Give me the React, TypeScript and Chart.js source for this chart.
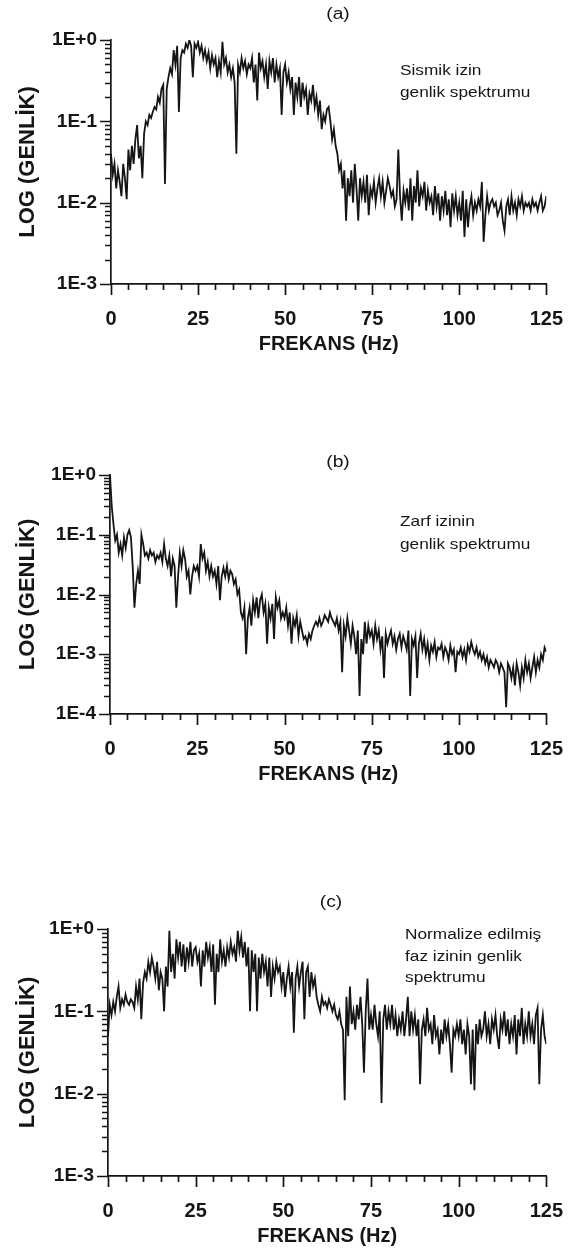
import React, { useEffect, useRef } from 'react';
import { Chart, registerables } from 'chart.js';

Chart.register(...registerables);

// Frequency sampling of the spectra (Hz between successive samples)
const FREQ_STEP_HZ = 0.5;
const X_TICKS = [0, 25, 50, 75, 100, 125];
const X_TITLE = 'FREKANS (Hz)';
const Y_TITLE = 'LOG (GENLİK)';

// (a) Sismik izin genlik spektrumu, 0 .. 125 Hz every 0.5 Hz
const A_AMP = [
  0.04, 0.022, 0.03, 0.015, 0.025, 0.018, 0.012, 0.03, 0.02, 0.011,
  0.045, 0.025, 0.05, 0.03, 0.06, 0.09, 0.035, 0.05, 0.02, 0.07,
  0.1, 0.09, 0.12, 0.11, 0.13, 0.15, 0.14, 0.2, 0.17, 0.25,
  0.28, 0.017, 0.25, 0.35, 0.45, 0.38, 0.75, 0.5, 0.85, 0.13,
  0.6, 0.75, 0.7, 0.9, 0.8, 1.0, 0.85, 0.35, 0.9, 0.8,
  0.95, 0.7, 0.85, 0.6, 0.75, 0.55, 0.7, 0.45, 0.65, 0.5,
  0.6, 0.35, 0.55, 0.4, 0.95, 0.5, 0.6, 0.4, 0.5, 0.35,
  0.45, 0.3, 0.04, 0.5, 0.4, 0.6, 0.45, 0.55, 0.38, 0.5,
  0.45, 0.6, 0.3, 0.5, 0.18, 0.7, 0.45, 0.55, 0.35, 0.5,
  0.25, 0.55, 0.4, 0.6, 0.3, 0.5, 0.35, 0.45, 0.12, 0.4,
  0.5, 0.3, 0.4, 0.25, 0.35, 0.12, 0.3, 0.2, 0.35, 0.15,
  0.3, 0.2, 0.25, 0.12, 0.22, 0.18, 0.28, 0.15, 0.2, 0.12,
  0.18, 0.08, 0.12, 0.1, 0.14, 0.15, 0.1, 0.06, 0.08, 0.05,
  0.04, 0.025, 0.03, 0.015, 0.025, 0.006, 0.02, 0.012, 0.025, 0.01,
  0.03, 0.015, 0.006, 0.02, 0.012, 0.018, 0.01, 0.022, 0.007, 0.015,
  0.012, 0.018, 0.01, 0.015, 0.02, 0.012, 0.018, 0.01, 0.014, 0.02,
  0.016, 0.012, 0.014, 0.009, 0.011, 0.045, 0.012, 0.006, 0.014, 0.01,
  0.015, 0.008, 0.02, 0.006, 0.016, 0.01, 0.025, 0.009, 0.015, 0.012,
  0.018, 0.008, 0.014, 0.01, 0.012, 0.007, 0.016, 0.009, 0.013, 0.006,
  0.012, 0.008, 0.014, 0.007, 0.011, 0.005, 0.013, 0.008, 0.012, 0.007,
  0.01, 0.006, 0.014, 0.0038, 0.011, 0.005, 0.009, 0.012, 0.007, 0.01,
  0.008, 0.011, 0.009, 0.018, 0.0033, 0.007, 0.012, 0.008, 0.01, 0.011,
  0.009, 0.01, 0.007, 0.008, 0.01, 0.006, 0.0045, 0.009, 0.011, 0.007,
  0.012, 0.008, 0.01, 0.007, 0.011, 0.009, 0.012, 0.008, 0.01, 0.009,
  0.01, 0.008, 0.011, 0.009, 0.01, 0.008, 0.01, 0.012, 0.008, 0.009,
  0.012,
];

// (b) Zarf izinin genlik spektrumu
const B_AMP = [
  1.0, 0.3, 0.15, 0.08, 0.1, 0.05, 0.07, 0.045, 0.09, 0.06,
  0.1, 0.12, 0.09, 0.03, 0.006, 0.015, 0.025, 0.015, 0.1, 0.07,
  0.045, 0.05, 0.04, 0.055, 0.045, 0.05, 0.035, 0.045, 0.04, 0.05,
  0.035, 0.07, 0.04, 0.03, 0.045, 0.02, 0.04, 0.03, 0.006, 0.02,
  0.05, 0.03, 0.055, 0.04, 0.02, 0.025, 0.01, 0.02, 0.03, 0.025,
  0.03, 0.02, 0.07, 0.04, 0.05, 0.025, 0.035, 0.02, 0.03, 0.02,
  0.025, 0.015, 0.03, 0.008, 0.02, 0.028, 0.02, 0.03, 0.018, 0.025,
  0.022, 0.015, 0.018, 0.01, 0.012, 0.005, 0.004, 0.006, 0.001, 0.004,
  0.006, 0.003, 0.008, 0.005, 0.009, 0.004, 0.008, 0.01, 0.005, 0.007,
  0.0015, 0.006, 0.004, 0.007, 0.0018, 0.009, 0.006, 0.008, 0.004, 0.005,
  0.004, 0.006, 0.003, 0.005, 0.0015, 0.004, 0.003, 0.0045, 0.002, 0.0035,
  0.0025, 0.0018, 0.002, 0.0015, 0.0022, 0.0018, 0.0025, 0.003, 0.0035, 0.003,
  0.004, 0.003, 0.0035, 0.0045, 0.004, 0.0035, 0.005, 0.004, 0.0035, 0.003,
  0.004, 0.0025, 0.0035, 0.0005, 0.003, 0.002, 0.004, 0.0025, 0.0015, 0.003,
  0.002, 0.001, 0.0025, 0.0002, 0.0018, 0.001, 0.0035, 0.0015, 0.003, 0.002,
  0.0025, 0.0015, 0.003, 0.0018, 0.0025, 0.0012, 0.002, 0.0004, 0.0022, 0.0015,
  0.002, 0.0025, 0.0015, 0.002, 0.0012, 0.0018, 0.0022, 0.0013, 0.002, 0.0016,
  0.0012, 0.0025, 0.0002, 0.0018, 0.0014, 0.002, 0.0004, 0.0015, 0.0022, 0.0012,
  0.0018, 0.001, 0.0015, 0.0008, 0.0014, 0.0011, 0.0016, 0.0009, 0.0013, 0.0012,
  0.0015, 0.0009, 0.0013, 0.0011, 0.0008, 0.0014, 0.001, 0.0012, 0.0005, 0.0011,
  0.001, 0.0013, 0.0009, 0.0012, 0.0008, 0.0014, 0.0011, 0.0016, 0.0012, 0.001,
  0.0013, 0.0009, 0.0011, 0.0008, 0.001, 0.0007, 0.0009, 0.0006, 0.0008, 0.0007,
  0.0006, 0.0008, 0.0007, 0.0005, 0.0007, 0.0006, 0.0005, 0.00013, 0.0007, 0.0006,
  0.0004, 0.0006, 0.0003, 0.0007, 0.0005, 0.0003, 0.0006, 0.0004, 0.0008, 0.0005,
  0.0007, 0.0004, 0.0006, 0.0009, 0.0005, 0.0008, 0.0006, 0.001, 0.0008, 0.0013,
  0.0011,
];

// (c) Normalize edilmiş faz izinin genlik spektrumu
const C_AMP = [
  0.05, 0.12, 0.09, 0.13, 0.1, 0.15, 0.2, 0.11, 0.14, 0.12,
  0.16, 0.13, 0.12, 0.14, 0.13, 0.11, 0.2, 0.14, 0.25, 0.08,
  0.22, 0.3, 0.25, 0.4, 0.3, 0.45, 0.35, 0.25, 0.4, 0.18,
  0.3, 0.25, 0.1, 0.35, 0.2, 0.95, 0.3, 0.5, 0.25, 0.75,
  0.45, 0.7, 0.35, 0.65, 0.3, 0.6, 0.4, 0.7, 0.35, 0.55,
  0.6, 0.4, 0.5, 0.2, 0.55, 0.35, 0.7, 0.45, 0.6, 0.3,
  0.65, 0.12, 0.5, 0.3, 0.75, 0.4, 0.55, 0.35, 0.6, 0.45,
  0.7, 0.5, 0.6, 0.4, 0.95, 0.55, 0.8, 0.45, 0.7, 0.35,
  0.6, 0.1, 0.55, 0.3, 0.5, 0.1, 0.45, 0.25, 0.5, 0.3,
  0.4, 0.2, 0.45, 0.15, 0.35, 0.25, 0.4, 0.3, 0.35, 0.2,
  0.3, 0.15, 0.25, 0.35, 0.2, 0.3, 0.055, 0.25, 0.35, 0.2,
  0.3, 0.4, 0.08, 0.3, 0.35, 0.15, 0.3, 0.2, 0.25, 0.15,
  0.12, 0.1, 0.15, 0.12, 0.13, 0.11, 0.14, 0.12, 0.1, 0.12,
  0.09, 0.08, 0.1, 0.07, 0.06, 0.0083, 0.15, 0.05, 0.2, 0.07,
  0.1, 0.06, 0.12, 0.08, 0.15, 0.07, 0.018, 0.1, 0.25, 0.06,
  0.09, 0.06, 0.12, 0.07, 0.05, 0.1, 0.0077, 0.08, 0.12, 0.06,
  0.1, 0.07, 0.12, 0.06, 0.09, 0.05, 0.08, 0.06, 0.1, 0.05,
  0.08, 0.15, 0.05, 0.1, 0.06, 0.09, 0.05, 0.08, 0.013, 0.06,
  0.08, 0.05, 0.11, 0.06, 0.07, 0.04, 0.09, 0.05, 0.06, 0.03,
  0.06, 0.04, 0.08, 0.05, 0.07, 0.04, 0.018, 0.06, 0.05, 0.07,
  0.05, 0.08, 0.04, 0.06, 0.03, 0.07, 0.05, 0.013, 0.06, 0.011,
  0.07, 0.04, 0.08, 0.05, 0.06, 0.1, 0.05, 0.07, 0.04, 0.08,
  0.06, 0.09, 0.05, 0.035, 0.08, 0.06, 0.1, 0.05, 0.08, 0.04,
  0.07, 0.05, 0.09, 0.03, 0.08, 0.05, 0.11, 0.04, 0.07, 0.05,
  0.1, 0.05, 0.07, 0.04, 0.09, 0.11, 0.013, 0.06, 0.09, 0.05,
  0.04,
];

const PANEL_LABELS = ['(a)', '(b)', '(c)'];
const NOTES_A = ['Sismik izin', 'genlik spektrumu'];
const NOTES_B = ['Zarf izinin', 'genlik spektrumu'];
const NOTES_C = ['Normalize edilmiş', 'faz izinin genlik', 'spektrumu'];
const Y_DECADES_A = [-3, 0];
const Y_DECADES_B = [-4, 0];
const Y_DECADES_C = [-3, 0];

const FONT = "'Liberation Sans', Arial, sans-serif";
const INK = '#151515';

type Panel = {
  amp: number[];
  decades: number[];
  label: string;
  notes: string[];
  canvasTop: number;
  height: number;
  area: { left: number; right: number; top: number; bottom: number };
  labelPos: { x: number; y: number };
  notePos: { x: number; y: number; dy: number };
};

const PANELS: Panel[] = [
  {
    amp: A_AMP, decades: Y_DECADES_A, label: PANEL_LABELS[0], notes: NOTES_A,
    canvasTop: 0, height: 420,
    area: { left: 111, right: 558, top: 40, bottom: 284 },
    labelPos: { x: 338, y: 15 },
    notePos: { x: 400, y: 71, dy: 22 },
  },
  {
    amp: B_AMP, decades: Y_DECADES_B, label: PANEL_LABELS[1], notes: NOTES_B,
    canvasTop: 420, height: 440,
    area: { left: 110, right: 555, top: 55, bottom: 294 },
    labelPos: { x: 338, y: 43 },
    notePos: { x: 400, y: 102, dy: 23 },
  },
  {
    amp: C_AMP, decades: Y_DECADES_C, label: PANEL_LABELS[2], notes: NOTES_C,
    canvasTop: 860, height: 392,
    area: { left: 108, right: 553, top: 69, bottom: 316 },
    labelPos: { x: 331, y: 43 },
    notePos: { x: 405, y: 75, dy: 21.5 },
  },
];

const decadeLabel = (v: number) => {
  const e = Math.round(Math.log10(v));
  return '1E' + (e >= 0 ? '+' : '') + e;
};

function makeTickPlugin(p: Panel) {
  return {
    id: 'customTicks',
    afterDraw(chart: any) {
      const ctx = chart.ctx as CanvasRenderingContext2D;
      const xs = chart.scales.x;
      const ys = chart.scales.y;
      const ca = chart.chartArea;
      ctx.save();
      ctx.strokeStyle = INK;
      ctx.lineWidth = 1.7;
      ctx.beginPath();
      for (let v = 0; v <= 125; v += 5) {
        const px = Math.round(xs.getPixelForValue(v)) + 0.5;
        const len = v % 25 === 0 ? 11 : 6;
        ctx.moveTo(px, ca.bottom);
        ctx.lineTo(px, ca.bottom + len);
      }
      for (let e = p.decades[0]; e <= p.decades[1]; e++) {
        for (let m = 1; m <= 9; m++) {
          const v = m * Math.pow(10, e);
          if (v > Math.pow(10, p.decades[1]) * 1.0001) break;
          const py = Math.round(ys.getPixelForValue(v)) + 0.5;
          const len = m === 1 ? 11 : 6;
          ctx.moveTo(ca.left - len, py);
          ctx.lineTo(ca.left, py);
        }
      }
      ctx.stroke();

      // panel label
      ctx.fillStyle = INK;
      ctx.textAlign = 'center';
      ctx.textBaseline = 'middle';
      ctx.font = `16px ${FONT}`;
      ctx.save();
      ctx.translate(p.labelPos.x, p.labelPos.y);
      ctx.scale(1.2, 1);
      ctx.fillText(p.label, 0, 0);
      ctx.restore();

      // annotation
      ctx.textAlign = 'left';
      ctx.font = `15px ${FONT}`;
      p.notes.forEach((t, i) => {
        ctx.save();
        ctx.translate(p.notePos.x, p.notePos.y + i * p.notePos.dy);
        ctx.scale(1.15, 1);
        ctx.fillText(t, 0, 0);
        ctx.restore();
      });
      ctx.restore();
    },
  };
}

function SpectrumPanel({ p }: { p: Panel }) {
  const ref = useRef<HTMLCanvasElement | null>(null);
  useEffect(() => {
    if (!ref.current) return;
    const { area, height } = p;
    const yMin = Math.pow(10, p.decades[0]);
    const yMax = Math.pow(10, p.decades[1]);
    const xTitleLine = 24;
    const xTitleCenter = area.bottom + 60;
    const chart = new Chart(ref.current, {
      type: 'line',
      data: {
        datasets: [
          {
            data: p.amp.map((y, i) => ({ x: i * FREQ_STEP_HZ, y })),
            borderColor: INK,
            borderWidth: 1.8,
            pointRadius: 0,
            tension: 0,
            fill: false,
          },
        ],
      },
      plugins: [makeTickPlugin(p)],
      options: {
        responsive: false,
        animation: false,
        events: [],
        layout: {
          padding: { left: 0, top: area.top, right: 576 - area.right, bottom: 0 },
        },
        plugins: { legend: { display: false }, tooltip: { enabled: false } },
        scales: {
          x: {
            type: 'linear',
            min: 0,
            max: 125,
            afterBuildTicks: (s: any) => {
              s.ticks = X_TICKS.map((v) => ({ value: v }));
            },
            afterFit: (s: any) => {
              s.height = height - area.bottom;
            },
            grid: { display: true, drawOnChartArea: false, drawTicks: true, tickLength: 10, color: 'rgba(0,0,0,0)' },
            border: { display: true, color: INK, width: 1.7 },
            ticks: {
              autoSkip: false,
              maxRotation: 0,
              padding: 13,
              color: INK,
              font: { family: FONT, size: 20, weight: 'bold' },
              callback: (v: any) => String(v),
            },
            title: {
              display: true,
              text: X_TITLE,
              color: INK,
              font: { family: FONT, size: 20, weight: 'bold' },
              padding: { top: 0, bottom: height - xTitleCenter - xTitleLine / 2 },
            },
          },
          y: {
            type: 'logarithmic',
            min: yMin,
            max: yMax,
            afterBuildTicks: (s: any) => {
              const t: any[] = [];
              for (let e = p.decades[0]; e <= p.decades[1]; e++) t.push({ value: Math.pow(10, e) });
              s.ticks = t;
            },
            afterFit: (s: any) => {
              s.width = area.left;
            },
            grid: { display: true, drawOnChartArea: false, drawTicks: true, tickLength: 10, color: 'rgba(0,0,0,0)' },
            border: { display: true, color: INK, width: 1.7 },
            ticks: {
              autoSkip: false,
              padding: 4,
              color: INK,
              font: { family: FONT, size: 19, weight: 'bold' },
              callback: (v: any) => decadeLabel(Number(v)),
            },
            title: {
              display: true,
              text: Y_TITLE,
              color: INK,
              font: { family: FONT, size: 22, weight: 'bold' },
              padding: { top: 15, bottom: 0 },
            },
          },
        },
      },
    } as any);
    return () => chart.destroy();
  }, [p]);
  return (
    <canvas
      ref={ref}
      width={576}
      height={p.height}
      style={{ position: 'absolute', left: 0, top: p.canvasTop, width: 576, height: p.height, display: 'block' }}
    />
  );
}

export default function App() {
  return (
    <div style={{ position: 'absolute', left: 0, top: 0, width: 576, height: 1252, background: '#fff' }}>
      {PANELS.map((p, i) => (
        <SpectrumPanel key={i} p={p} />
      ))}
    </div>
  );
}
